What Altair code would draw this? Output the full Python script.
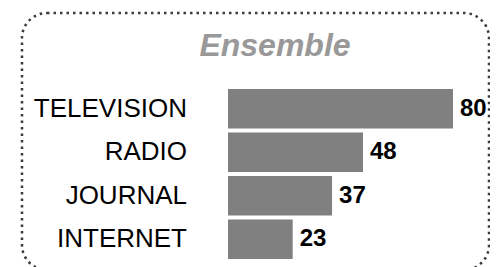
import altair as alt
import pandas as pd

categories = ["TELEVISION", "RADIO", "JOURNAL", "INTERNET"]
values = [80, 48, 37, 23]
title_text = "Ensemble"

df = pd.DataFrame({"media": categories, "value": values})

FONT = "Liberation Sans, Arial, Helvetica, sans-serif"

x_scale = alt.Scale(domain=[0, 80], range=[206, 431])
y_scale = alt.Scale(domain=categories, range=[76, 246], paddingInner=0.09, paddingOuter=0)

base = alt.Chart(df).encode(
    y=alt.Y("media:N", scale=y_scale, axis=None, sort=categories)
)

bars = base.mark_bar(color="#808080").encode(
    x=alt.X("value:Q", scale=x_scale, axis=None)
)

values_text = base.mark_text(
    align="left", baseline="middle", dx=7, font=FONT, fontSize=24,
    fontWeight="bold", color="#000000"
).encode(
    x=alt.X("value:Q", scale=x_scale, axis=None),
    text=alt.Text("value:Q")
)

cat_text = base.mark_text(
    align="right", baseline="middle", dx=-41, font=FONT, fontSize=26,
    color="#000000"
).encode(
    x=alt.datum(0, scale=x_scale),
    text="media:N"
)

chart = alt.layer(bars, values_text, cat_text).properties(
    width=467,
    height=257,
    background="white",
    autosize=alt.AutoSizeParams(type="none"),
    padding={"left": 14, "top": 5, "right": 1, "bottom": 0},
    title=alt.TitleParams(
        text=title_text, orient="none", anchor="start", align="center",
        font=FONT, fontSize=32, fontStyle="italic", fontWeight="bold",
        color="#999999", baseline="alphabetic", dy=43, dx=253
    )
).configure_view(
    stroke="#3a3a3a", strokeWidth=2.5, strokeDash=[2.5, 4], cornerRadius=25
)

chart.save("out.html", embed_options={"renderer": "svg", "actions": False})
